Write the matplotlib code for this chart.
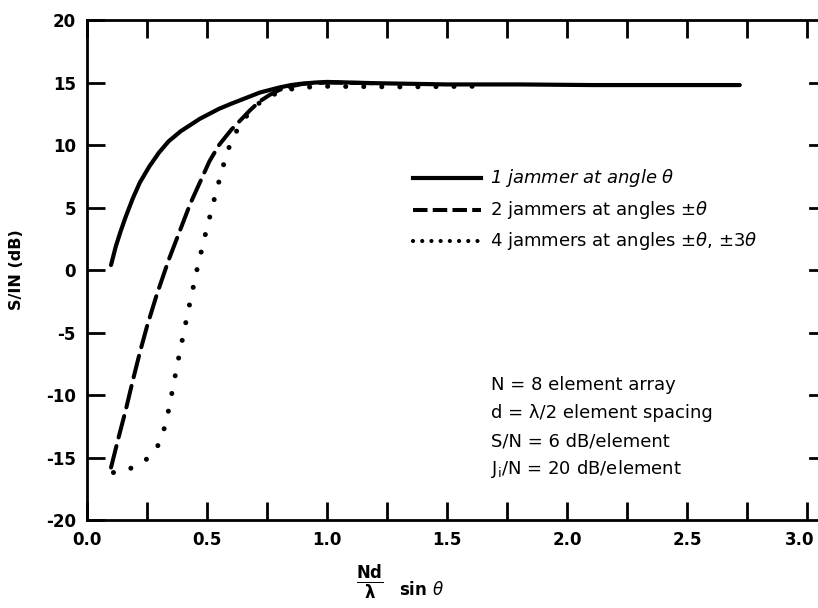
import matplotlib
matplotlib.use("Agg")
import matplotlib.pyplot as plt
import matplotlib.transforms as mtransforms

# one jammer at angle theta
x_one = [0.10, 0.12, 0.14, 0.16, 0.19, 0.22, 0.26, 0.30, 0.34, 0.39, 0.43, 0.47, 0.51,
         0.55, 0.60, 0.64, 0.68, 0.72, 0.76, 0.80, 0.85, 0.89, 0.95, 1.00,
         1.20, 1.50, 1.80, 2.10, 2.40, 2.72]
y_one = [0.4, 1.9, 3.1, 4.2, 5.7, 7.0, 8.3, 9.4, 10.3, 11.1, 11.6, 12.1, 12.5,
         12.9, 13.3, 13.6, 13.9, 14.2, 14.4, 14.6, 14.8, 14.9, 15.0, 15.05,
         14.95, 14.85, 14.85, 14.8, 14.8, 14.8]

# two jammers at +/- theta
x_two = [0.10, 0.13, 0.16, 0.19, 0.22, 0.25, 0.29, 0.34, 0.39, 0.43, 0.47, 0.51, 0.55,
         0.60, 0.64, 0.68, 0.72, 0.76, 0.80, 0.85, 0.90, 1.00, 1.20]
y_two = [-15.8, -13.5, -11.3, -8.9, -6.6, -4.5, -2.0, 0.8, 3.3, 5.3, 7.0, 8.7, 10.0,
         11.2, 12.0, 12.8, 13.5, 14.0, 14.4, 14.7, 14.9, 15.0, 14.95]

# four jammers at +/- theta, +/- 3 theta
x_four = [0.11, 0.15, 0.19, 0.23, 0.27, 0.30, 0.32, 0.34, 0.36, 0.38, 0.40, 0.42, 0.44,
          0.46, 0.48, 0.50, 0.52, 0.54, 0.57, 0.60, 0.64, 0.68, 0.72, 0.76, 0.81,
          0.88, 1.00, 1.30, 1.62]
y_four = [-16.2, -16.1, -15.8, -15.4, -14.8, -13.9, -12.8, -11.2, -9.2, -7.2, -5.3, -3.4,
          -1.6, 0.2, 1.8, 3.4, 4.9, 6.4, 8.5, 10.3, 11.7, 12.7, 13.4, 13.9, 14.3,
          14.6, 14.7, 14.65, 14.7]

x_ticks = [0.0, 0.5, 1.0, 1.5, 2.0, 2.5, 3.0]
x_ticklabels = ["0.0", "0.5", "1.0", "1.5", "2.0", "2.5", "3.0"]
y_ticks = [-20, -15, -10, -5, 0, 5, 10, 15, 20]
y_ticklabels = ["-20", "-15", "-10", "-5", "0", "5", "10", "15", "20"]

labels = ["1 jammer at angle $\\theta$",
          "2 jammers at angles \u00b1$\\theta$",
          "4 jammers at angles \u00b1$\\theta$, \u00b13$\\theta$"]
notes = ["N = 8 element array",
         "d = \u03bb/2 element spacing",
         "S/N = 6 dB/element",
         "J$_\\mathregular{i}$/N = 20 dB/element"]

plt.rcParams['font.family'] = ['DejaVu Sans']
plt.rcParams['mathtext.fontset'] = 'dejavusans'

fig = plt.figure(figsize=(8.18, 6.08), dpi=100)
ax = fig.add_axes([0.1064, 0.1447, 0.8936, 0.8223])

ax.plot(x_one, y_one, color="black", lw=3.0, solid_capstyle="round", solid_joinstyle="round")
ax.plot(x_two, y_two, color="black", lw=2.9, linestyle=(0, (5.5, 2.2)), dash_capstyle="round")
ax.plot(x_four, y_four, color="black", lw=3.6, linestyle=(0, (0.01, 3.6)), dash_capstyle="round")

ax.set_xlim(0, 3.046)
ax.set_ylim(-20, 20)
ax.spines['right'].set_visible(False)
for s in ['left', 'bottom', 'top']:
    ax.spines[s].set_linewidth(2)

ax.set_xticks(x_ticks)
ax.set_xticklabels(x_ticklabels, fontsize=12, fontweight="bold")
ax.set_xticks([0.25, 0.75, 1.25, 1.75, 2.25, 2.75], minor=True)
ax.set_yticks(y_ticks)
ax.set_yticklabels(y_ticklabels, fontsize=12, fontweight="bold")
ax.tick_params(axis='x', which='both', direction='in', length=13, width=2, top=True, pad=8)
ax.tick_params(axis='y', which='major', direction='in', length=13, width=2, right=False, pad=8)

# last x label sits a little left of its tick, as in the original
last = ax.get_xticklabels()[-1]
last.set_transform(last.get_transform() + mtransforms.ScaledTranslation(-5 / 72, 0, fig.dpi_scale_trans))

# short marks along the right edge
for v in y_ticks[1:-1]:
    ax.plot([3.013, 3.046], [v, v], color="black", lw=2, clip_on=False)

ax.set_ylabel("S/IN (dB)", fontsize=11.5, fontweight="bold", labelpad=16)

# legend drawn by hand
leg_y = [7.4, 4.8, 2.3]
styles = [dict(lw=3.0),
          dict(lw=2.9, linestyle=(0, (3.6, 1.3))),
          dict(lw=3.0, linestyle=(0, (0.01, 2.2)), dash_capstyle="round")]
for i, (yy, lab, st) in enumerate(zip(leg_y, labels, styles)):
    ax.plot([1.36, 1.64], [yy, yy], color="black", **st)
    ax.text(1.68, yy, lab, fontsize=13, va="center", ha="left",
            style="italic" if i == 0 else "normal")

for i, t in enumerate(notes):
    ax.text(1.685, -9.2 - 2.25 * i, t, fontsize=13, va="center", ha="left")

fig.text(0.452, 0.042, "$\\mathbf{\\frac{Nd}{\\lambda}}$", fontsize=17, ha="center", va="center")
fig.text(0.488, 0.029, "sin $\\theta$", fontsize=12, fontweight="bold", ha="left", va="center")

fig.savefig("out.png", dpi=100)
